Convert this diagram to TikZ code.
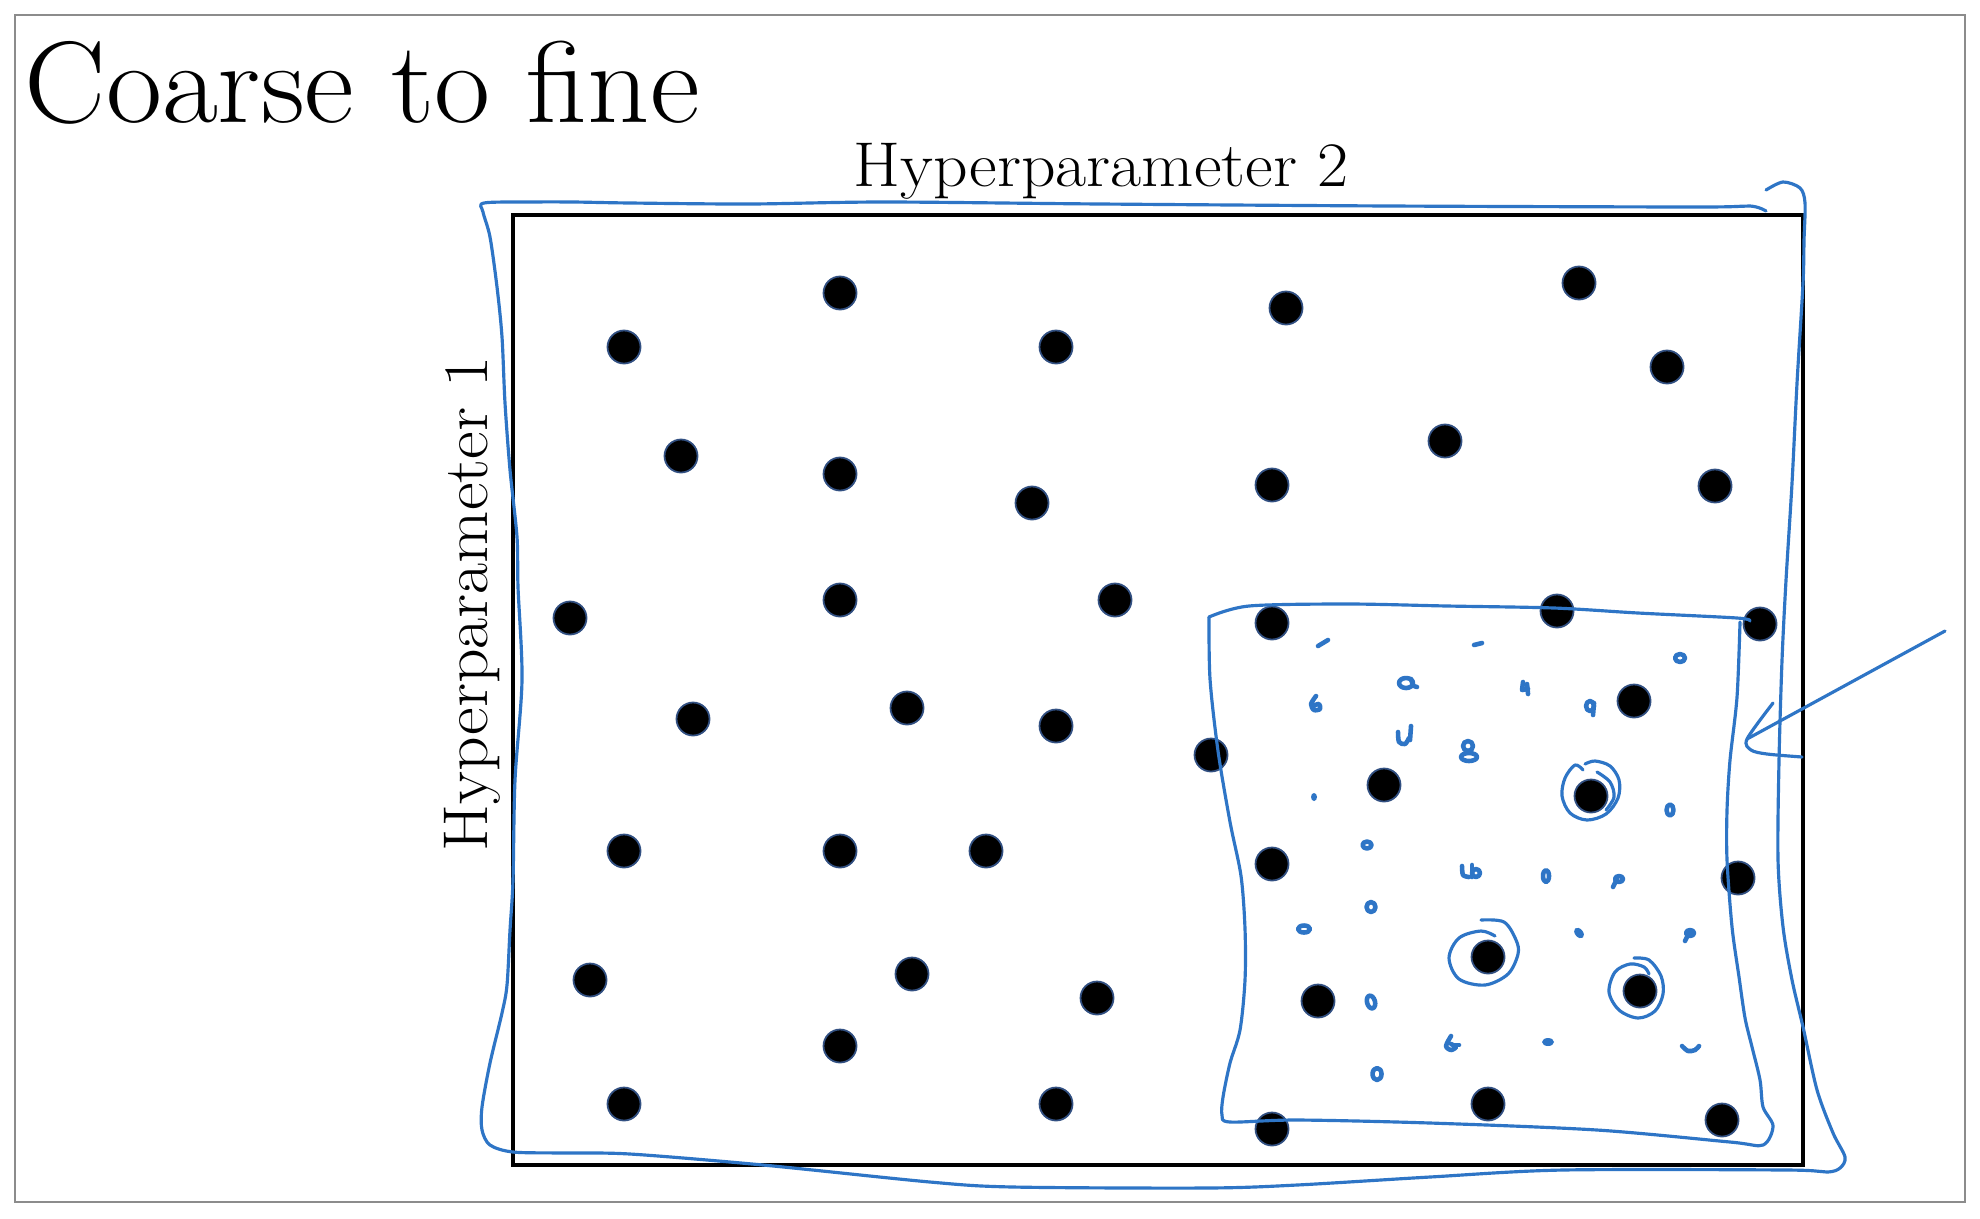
\documentclass[tikz,border=0pt]{standalone}
\usepackage{fontspec}
\definecolor{penblue}{RGB}{46,117,198}
\definecolor{dotrim}{RGB}{50,80,130}
\definecolor{framegray}{RGB}{140,140,140}
\begin{document}
\begin{tikzpicture}[x=0.01cm,y=-0.01cm,
  pen/.style={draw=penblue, line width=0.9pt, line cap=round, line join=round},
  scrib/.style={draw=penblue, line width=1.3pt, line cap=round, line join=round},
  dot/.style={circle, fill=black, draw=dotrim, line width=0.5pt, minimum size=0.33cm, inner sep=0pt},
  lbl/.style={inner sep=0pt, font=\fontsize{18}{18}\selectfont}]
\useasboundingbox (0,0) rectangle (1980,1218);
\fill[white] (0,0) rectangle (1980,1218);
\draw[framegray, line width=0.8pt] (15,15) rectangle (1965,1202);

% texts
\node[anchor=base west, inner sep=0pt, font=\fontsize{33}{33}\selectfont] (title) at (24,122) {\scalebox{1.05}[1]{Coarse to fine}};
\node[lbl, anchor=base] (hp2) at (1101,186) {\scalebox{1.07}[1]{Hyperparameter 2}};
\node[lbl, anchor=base, rotate=90] (hp1) at (487,604) {\scalebox{1.07}[1]{Hyperparameter 1}};

% plot area
\draw[line width=1.1pt] (513,215) rectangle (1803,1165);

% dots
\foreach \i/\x/\y in {1/840/293, 2/624/347, 3/1056/347, 4/1286/308, 5/1579/283, 6/1667/367,
  7/681/456, 8/840/474, 9/1032/503, 10/1272/485, 11/1445/441, 12/1715/486,
  13/570/618, 14/840/600, 15/1115/600, 16/1272/623, 17/1557/611, 18/1760/624,
  19/693/719, 20/907/708, 21/1056/726, 22/1211/755, 23/1384/785, 24/1634/701, 25/1591/796,
  26/624/851, 27/840/851, 28/986/851, 29/1272/864, 30/1738/878,
  31/590/980, 32/912/974, 33/1097/998, 34/1318/1001, 35/1488/957, 36/1640/991,
  37/840/1046, 38/624/1104, 39/1056/1104, 40/1272/1129, 41/1488/1104, 42/1722/1120}
  \node[dot] (d\i) at (\x,\y) {};

% outer hand-drawn loop
\draw[pen] plot[smooth, tension=0.5] coordinates {
  (1766,190) (1783,182) (1800,188) (1805,203) (1804,240) (1803,283) (1797,383)
  (1792,483) (1786,580) (1782,660) (1779,760) (1778,860) (1783,927) (1792,980)
  (1803,1027) (1817,1090) (1833,1133) (1845,1157) (1840,1168) (1827,1172)
  (1787,1170) (1563,1170) (1430,1177) (1297,1185) (1207,1188) (1013,1187)
  (930,1182) (763,1165) (630,1154) (563,1153) (513,1152) (490,1145) (482,1130)
  (482,1107) (490,1063) (502,1013) (507,985) (510,930) (513,880) (515,780)
  (522,680) (518,587) (517,537) (510,470) (505,403) (502,337) (497,287)
  (490,237) (483,212) (484,203) (530,202) (573,202) (630,203) (750,204)
  (884,202) (1100,204) (1389,206) (1700,207) (1750,206) (1766,211)};

% inner hand-drawn square
\draw[pen] plot[smooth, tension=0.5] coordinates {
  (1209,617) (1249,606) (1348,604) (1447,606) (1554,608) (1638,613) (1737,618) (1750,621)};
\draw[pen] plot[smooth, tension=0.5] coordinates {
  (1740,622) (1737,697) (1730,760) (1727,810) (1727,860) (1732,927) (1739,977)
  (1745,1018) (1752,1047) (1760,1080) (1763,1107) (1773,1126) (1763,1145)
  (1730,1142) (1597,1130) (1430,1123) (1297,1120) (1230,1122) (1222,1115)
  (1223,1097) (1230,1063) (1240,1030) (1245,980) (1245,929) (1241,876)
  (1230,822) (1218,751) (1210,679) (1209,617)};

% arrow
\coordinate (atail) at (1945,631);
\coordinate (atip) at (1747,739);
\draw[pen] (atail) -- (atip);
\draw[pen] plot[smooth, tension=0.5] coordinates {(1773,703) (1747,739) (1751,750) (1767,754) (1802,757)};

% circles around the best points
\draw[pen] plot[smooth, tension=0.55] coordinates {
  (1583,770) (1575,765) (1565,778) (1562,796) (1570,813) (1587,820) (1606,814)
  (1618,798) (1619,780) (1610,766) (1595,761) (1585,764)};
\draw[pen] plot[smooth, tension=0.55] coordinates {(1597,772) (1610,782) (1614,797) (1606,810)};
\draw[pen] plot[smooth, tension=0.55] coordinates {
  (1481,920) (1504,922) (1516,940) (1518,954) (1508,974) (1485,985) (1459,979)
  (1449,958) (1459,938) (1481,931) (1495,936)};
\draw[pen] plot[smooth, tension=0.55] coordinates {
  (1634,958) (1649,960) (1661,976) (1663,994) (1655,1011) (1638,1018) (1619,1010)
  (1609,992) (1615,972) (1630,964) (1644,967) (1649,974)};

% small scribbles inside the fine region
\begin{scope}[scrib]
\draw (1318,646) .. controls (1323,643) .. (1328,640);
\draw (1474,645) -- (1482,643);
\draw (1680,658) ellipse [x radius=5, y radius=4];
\draw (1406,683) ellipse [x radius=7, y radius=5];
\draw (1411,679) .. controls (1413,686) .. (1417,687);
\draw (1523,682) -- (1522,690) -- (1528,689); \draw (1527,684) -- (1528,694);
\draw (1590,706) ellipse [x radius=4, y radius=5]; \draw (1594,703) -- (1593,715);
\draw plot[smooth] coordinates {(1316,696) (1311,704) (1314,710) (1320,709) (1319,704) (1313,706)};
\draw plot[smooth] coordinates {(1398,732) (1399,742) (1405,744) (1409,738)};
\draw (1411,726) -- (1410,740);
\draw (1468,746) ellipse [x radius=5, y radius=5];
\draw (1469,757) ellipse [x radius=8, y radius=4];
\fill[penblue] (1314,797) ellipse [x radius=3, y radius=4];
\draw (1670,810) ellipse [x radius=3.5, y radius=5.5];
\draw (1367,845) ellipse [x radius=4.5, y radius=3.5];
\draw plot[smooth] coordinates {(1462,866) (1463,875) (1469,877)};
\draw (1472,865) -- (1472,877); \draw (1476,873) ellipse [x radius=4, y radius=4];
\draw (1546,876) ellipse [x radius=3, y radius=6];
\draw (1619,879) ellipse [x radius=4, y radius=3]; \draw (1613,887) -- (1617,879);
\draw (1371,907) ellipse [x radius=4.5, y radius=5];
\draw (1304,929) ellipse [x radius=6, y radius=3.5];
\fill[penblue, rotate around={40:(1579,933)}] (1579,933) ellipse [x radius=4, y radius=6];
\draw (1690,933) ellipse [x radius=4, y radius=3]; \draw (1685,941) -- (1689,933);
\draw[rotate around={15:(1371,1002)}] (1371,1002) ellipse [x radius=4, y radius=6.5];
\draw plot[smooth] coordinates {(1451,1036) (1446,1046) (1451,1050) (1456,1047) (1451,1044)};
\draw (1455,1045) -- (1459,1045);
\fill[penblue] (1548,1042) ellipse [x radius=6, y radius=4];
\draw plot[smooth] coordinates {(1682,1046) (1688,1051) (1695,1050) (1699,1046)};
\draw (1377,1074) ellipse [x radius=4.5, y radius=6];
\end{scope}
\end{tikzpicture}
\end{document}
